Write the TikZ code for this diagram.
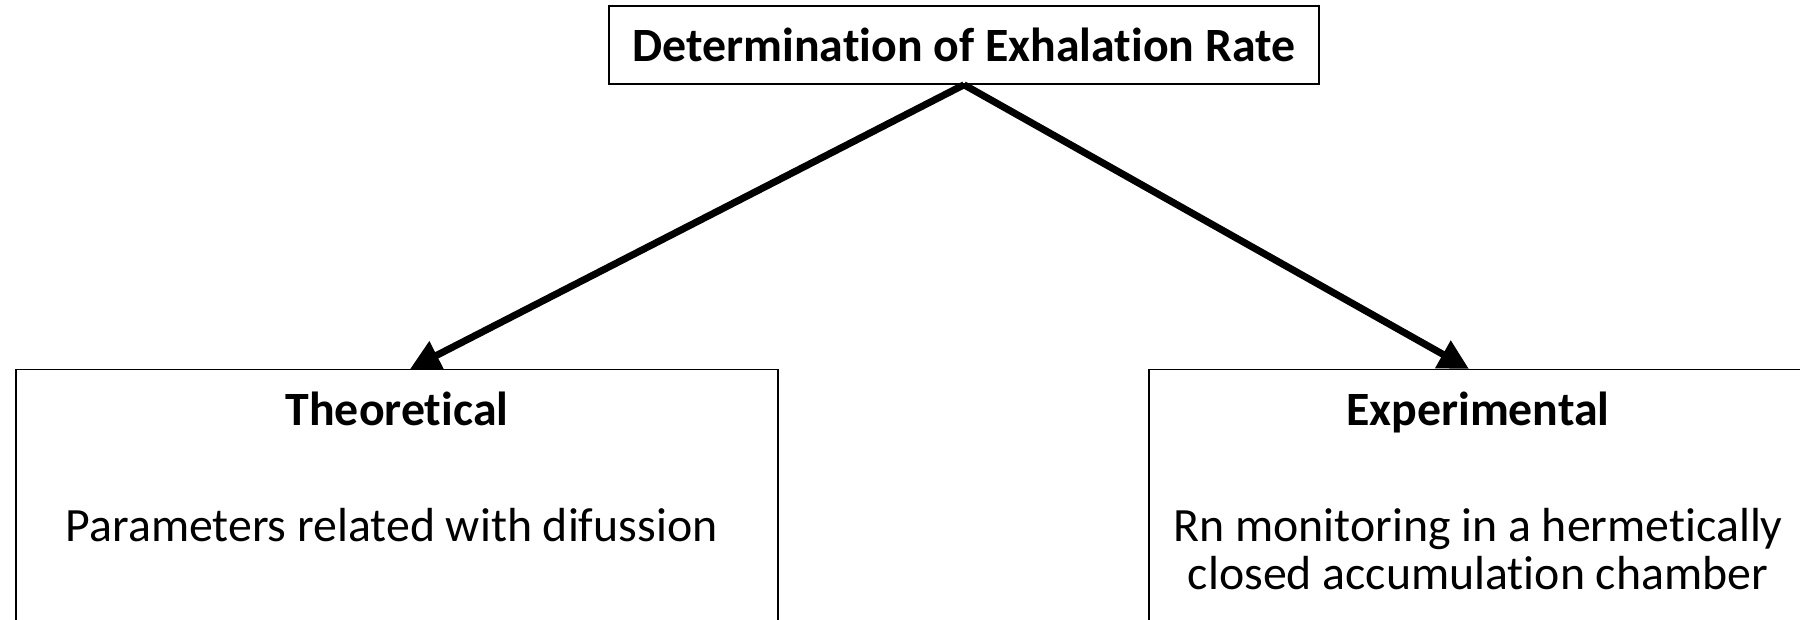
\documentclass[tikz,border=0pt]{standalone}
\usepackage{fontspec}
\setmainfont{Carlito}[Ligatures=NoCommon]
\usetikzlibrary{positioning,arrows.meta}

\begin{document}
\begin{tikzpicture}[
        x=0.025cm, y=-0.025cm,
        font=\fontsize{34}{34}\selectfont,
        >={Triangle[length=7.5mm,width=7.5mm]},
        topbox/.style={
            draw=black,
            line width=1.1pt,
            minimum width=17.75cm,
            minimum height=1.95cm,
            inner sep=0pt
        },
        box/.style={
            draw=black,
            line width=1pt,
            anchor=north,
            minimum height=7cm,
            inner sep=0pt
        },
        head/.style={
            font=\fontsize{34}{34}\selectfont\bfseries,
            inner sep=0pt
        },
        body/.style={
            font=\fontsize{34}{34}\selectfont,
            align=center,
            inner sep=0pt
        },
        arrow/.style={
            ->,
            line width=5pt
        }
    ]
    \useasboundingbox (0,0) rectangle (1800,619);

    % Oben
    \node[topbox] (rate) at (964,45) {\textbf{Determination of Exhalation Rate}};

    % Unten
    \node[box, minimum width=19.05cm] (theo) at (397,369) {};
    \node[box, minimum width=16.45cm] (expe) at (1478,369) {};

    \node[head, below=1.4cm of theo.north, anchor=base] (theohead) {Theoretical};
    \node[head, below=1.4cm of expe.north, anchor=base] (expehead) {Experimental};

    \node[body, below=4.3cm of theo.north, anchor=base] (theotext) {
        Parameters related with difussion
    };
    \node[body, below=5.5cm of expe.north, anchor=base] (expetext) {
        Rn monitoring in a hermetically\\
        closed accumulation chamber
    };

    % Pfeile
    \draw[arrow] (rate.south) -- ([xshift=0.325cm]theo.north);
    \draw[arrow] (rate.south) -- ([xshift=-0.225cm]expe.north);

\end{tikzpicture}
\end{document}
